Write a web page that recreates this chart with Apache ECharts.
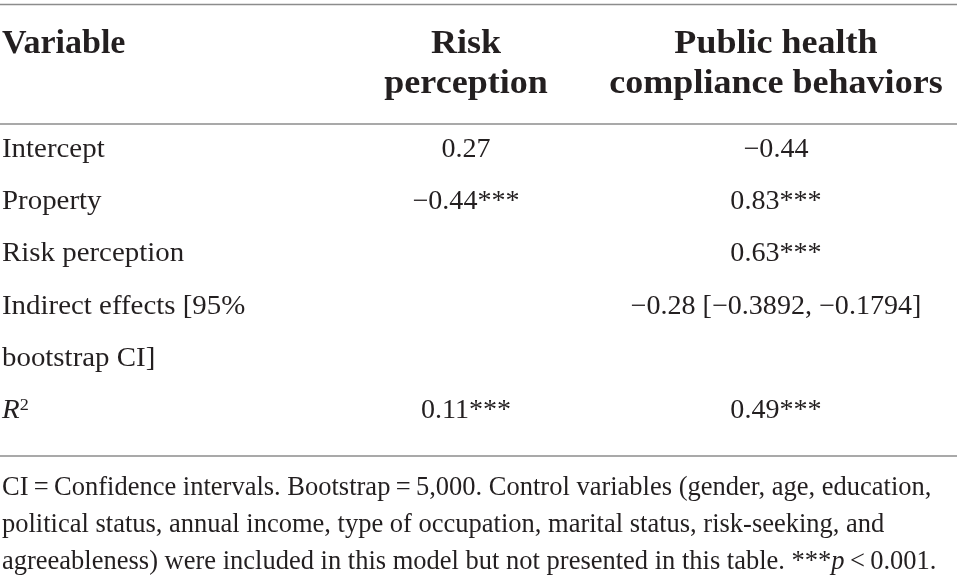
<!DOCTYPE html>
<html>
<head>
<meta charset="utf-8">
<script src="https://cdn.jsdelivr.net/npm/echarts@6/dist/echarts.min.js"></script>
<style>
html,body{margin:0;padding:0;background:#fff;}
#main{width:957px;height:587px;}
</style>
</head>
<body>
<div id="main"></div>
<script>
// ---- table content ----
const headers = ['Variable', 'Risk\nperception', 'Public health\ncompliance behaviors'];
const variables = ['Intercept', 'Property', 'Risk perception', 'Indirect effects [95%', 'bootstrap CI]', '{i|R}{sup|2}'];
const riskPerception = ['0.27', '\u22120.44***', '', '', '', '0.11***'];
const complianceBehaviors = ['\u22120.44', '0.83***', '0.63***', '\u22120.28 [\u22120.3892, \u22120.1794]', '', '0.49***'];
const footnoteLines = [
  'CI\u2009=\u2009Confidence intervals. Bootstrap\u2009=\u20095,000. Control variables (gender, age, education,',
  'political status, annual income, type of occupation, marital status, risk-seeking, and',
  'agreeableness) were included in this model but not presented in this table. ***{i|p}\u2009<\u20090.001.'
];

// ---- layout ----
const W = 957;
const FONT = '"Liberation Serif", "Times New Roman", serif';
const TXT = '#231f20';
const RULE = '#8c8c8c';
const colX = [2, 466, 776];
const bodyY0 = 150, rowH = 52.2;
const rich = {
  i: { fontFamily: FONT, fontStyle: 'italic', fontSize: 27, fill: TXT },
  sup: { fontFamily: FONT, fontSize: 17, fill: TXT, verticalAlign: 'top', padding: [0, 0, 10, 0] }
};
const g = [];
function rule(y) {
  g.push({ type: 'line', shape: { x1: 0, y1: y, x2: W, y2: y }, style: { stroke: RULE, lineWidth: 1.6 } });
}
rule(4.5); rule(124); rule(456);
headers.forEach((h, c) => {
  g.push({ type: 'text', x: colX[c], y: c === 0 ? 44 : 64, scaleX: c === 0 ? 1.0 : 1.06, style: {
    text: h, font: 'bold 34px ' + FONT, fill: TXT, lineHeight: 40,
    align: c === 0 ? 'left' : 'center', verticalAlign: 'middle'
  }});
});
[variables, riskPerception, complianceBehaviors].forEach((col, c) => {
  col.forEach((t, r) => {
    if (!t) return;
    g.push({ type: 'text', x: colX[c], y: bodyY0 + r * rowH, scaleX: c === 0 ? 1.07 : 1.04, style: {
      text: t, font: '27px ' + FONT, fill: TXT, rich: rich,
      align: c === 0 ? 'left' : 'center', verticalAlign: 'middle'
    }});
  });
});
footnoteLines.forEach((t, r) => {
  g.push({ type: 'text', x: 2, y: 488 + r * 37, style: {
    text: t, font: '26.5px ' + FONT, fill: TXT, align: 'left', verticalAlign: 'middle',
    rich: { i: { fontFamily: FONT, fontStyle: 'italic', fontSize: 26.5, fill: TXT } }
  }});
});

const chart = echarts.init(document.getElementById('main'), null, { renderer: 'canvas' });
chart.setOption({ backgroundColor: '#fff', animation: false, graphic: g });
</script>
</body>
</html>
